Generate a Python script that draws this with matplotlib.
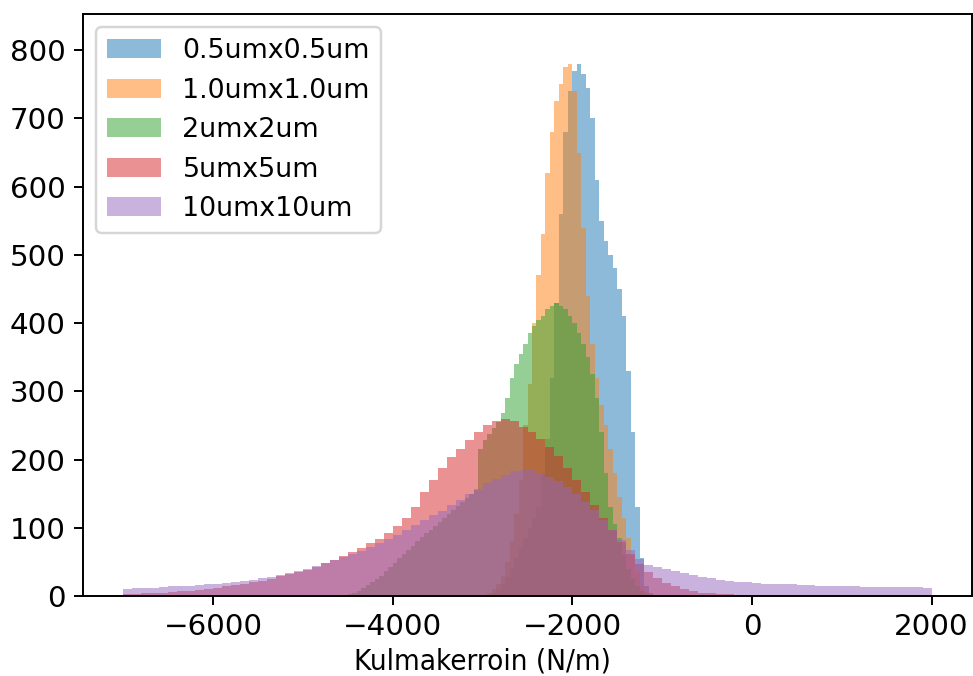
import numpy as np
import matplotlib.pyplot as plt

# Histogrammit: laskurit per bini, alku = ensimmäisen binin vasen reuna
koot = ['0.5umx0.5um', '1.0umx1.0um', '2umx2um', '5umx5um', '10umx10um']

alku_05 = -2900
leveys_05 = 50
laskut_05 = [5, 10, 18, 28, 40, 55, 70, 85, 100, 115,
             130, 180, 230, 320, 430, 560, 680, 740, 770, 780,
             765, 745, 700, 610, 550, 520, 500, 480, 450, 410,
             330, 240, 130, 55, 15, 5]

alku_10 = -2950
leveys_10 = 50
laskut_10 = [5, 10, 18, 30, 50, 80, 120, 170, 250, 310,
             400, 470, 530, 620, 680, 725, 750, 775, 780, 740,
             650, 540, 440, 370, 320, 280, 250, 215, 180, 145,
             115, 85, 60, 35, 15, 6]

alku_2 = -4500
leveys_2 = 50
laskut_2 = [3, 5, 8, 12, 16, 20, 25, 30, 36, 42,
            48, 55, 62, 68, 74, 80, 86, 92, 97, 102,
            108, 114, 120, 126, 132, 138, 144, 150, 156, 215,
            228, 238, 246, 255, 268, 290, 320, 340, 355, 370,
            385, 395, 405, 410, 420, 425, 430, 425, 420, 410,
            400, 385, 370, 350, 325, 290, 240, 180, 130, 105,
            85, 60, 40, 25, 15, 8, 3]

alku_5 = -7000
leveys_5 = 100
laskut_5 = [3, 3, 4, 5, 5, 6, 7, 8, 9, 10,
            12, 14, 16, 18, 20, 22, 25, 29, 32, 35,
            38, 43, 48, 53, 58, 64, 70, 77, 84, 92,
            102, 115, 130, 152, 170, 187, 203, 216, 228, 240,
            250, 257, 260, 256, 248, 240, 230, 218, 205, 188,
            170, 152, 133, 114, 96, 79, 62, 47, 35, 26,
            19, 14, 10, 7, 5, 4, 3, 3, 2, 2,
            2, 2, 2, 1, 1, 1, 1, 1, 1, 1,
            1, 1, 1, 1, 1, 1, 1, 1, 1, 1]

alku_10um = -7000
leveys_10um = 100
laskut_10um = [10, 11, 11, 12, 13, 14, 14, 15, 16, 17,
               18, 19, 21, 22, 24, 26, 28, 31, 34, 37,
               40, 44, 48, 53, 57, 61, 66, 72, 78, 84,
               90, 97, 104, 111, 118, 125, 133, 141, 149, 157,
               165, 172, 178, 183, 185, 184, 180, 175, 168, 160,
               150, 138, 126, 112, 97, 82, 67, 54, 46, 43,
               40, 37, 34, 31, 28, 26, 24, 22, 21, 20,
               19, 18, 18, 17, 17, 16, 16, 15, 15, 14,
               14, 14, 13, 13, 13, 13, 13, 13, 13, 12]

sarjat = [(alku_05, leveys_05, laskut_05),
          (alku_10, leveys_10, laskut_10),
          (alku_2, leveys_2, laskut_2),
          (alku_5, leveys_5, laskut_5),
          (alku_10um, leveys_10um, laskut_10um)]

fig = plt.figure(figsize=(973 / 176, 676 / 176), dpi=176)
ax = fig.add_axes([83 / 973, 80 / 676, 889 / 973, 582 / 676])

for nimi, (alku, leveys, laskut) in zip(koot, sarjat):
    reunat = alku + leveys * np.arange(len(laskut) + 1)
    keskit = reunat[:-1] + leveys / 2
    ax.hist(keskit, bins=reunat, weights=laskut, histtype='stepfilled',
            alpha=0.5, lw=0, label=nimi)

ax.set_ylim(0, 853)
ax.set_xticks([-6000, -4000, -2000, 0, 2000])
ax.tick_params(labelsize=12)
ax.set_xlabel('Kulmakerroin (N/m)', fontsize=12, fontstretch='condensed')
ax.xaxis.set_label_coords(0.449, -0.088)
ax.legend(loc='upper left', fontsize=11)

plt.savefig('out.png', dpi=176)
